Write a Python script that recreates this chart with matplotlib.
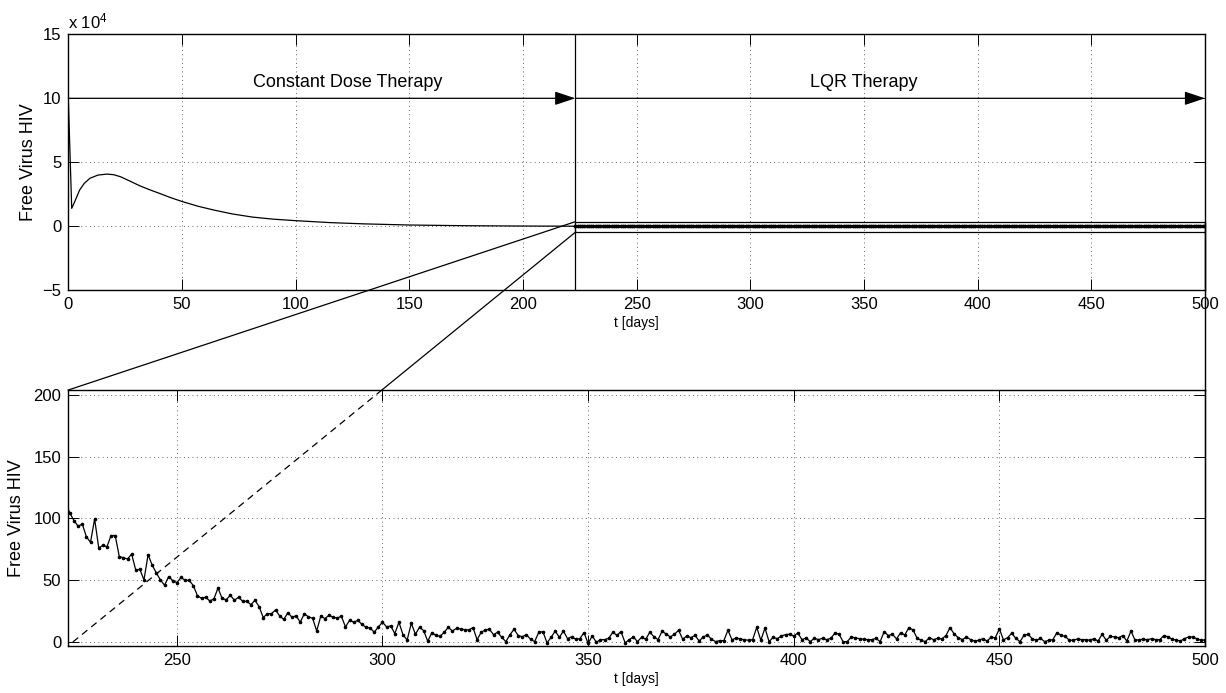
import numpy as np
import matplotlib
matplotlib.use('Agg')
import matplotlib.pyplot as plt
from matplotlib.patches import Rectangle
from matplotlib.lines import Line2D

plt.rcParams['font.family'] = ['Liberation Sans', 'DejaVu Sans']
plt.rcParams['mathtext.default'] = 'regular'

# ---------------- data ----------------
# constant dose therapy phase (free virus, top panel)
t_const = [0, 1.5, 3, 5, 7, 9.5, 13, 17, 20, 23, 27, 31.5, 36, 40, 45, 50, 57, 64,
           72, 81, 90, 100, 115, 130, 150, 175, 200, 223]
v_const = [100000, 14000, 20000, 28400, 33500, 37500, 40000, 40800, 40300, 38700,
           35400, 31600, 28400, 25800, 22400, 19400, 15700, 12700, 9700, 7200,
           5600, 4400, 2900, 1900, 1000, 450, 200, 80]

# LQR therapy phase (free virus, sampled daily from day 223)
lqr_seg1 = [112, 104, 98, 93.5, 95.4, 85, 80.5, 99.5, 76, 78, 77, 86, 86, 69, 68, 67,
            71, 58, 58.6, 50, 70.5, 62, 55.7, 50, 45.7, 52.7, 49.5, 47.8, 52, 49.7,
            49.7, 45.4, 37.3, 35, 36, 33, 34.6, 43.5, 35, 34, 37.6, 33.5, 36, 32.7,
            32.7, 30, 33.5]
lqr_seg2 = [28.4, 19.5, 22.7, 22.7, 25.7, 20.8, 18, 23.5, 19.7, 21, 15.7, 22.7, 20,
            19, 8.6, 20.8, 18.6, 21.4, 19.7, 19.2, 20.5, 11.9, 17.3, 15.7, 17.3, 14,
            11.6, 11, 7.6, 12, 15.7, 12, 12.7, 6.5, 15.7, 5.4, 1.4, 14.9, 6, 11.6, 9,
            0.3, 7.3, 5, 4.3, 7.6]
lqr_seg3 = [11.6, 8.6, 10.8, 10.3, 9.7, 9.5, 11.4, 1.6, 7.6, 9.5, 10, 5.7, 7.6, 3.5,
            0, 5.7, 10, 4.9, 4, 5.7, 1.9, 0, 7.6, 8.1, -1, 3.5, 8.6, 3.5, 8.6, 2.4, 4,
            1.9, 2.4, 7.3, -1.5, 4.6, -0.5, 1.6, 1.6, 2.7, 7.6, 5.1, 8.1, -1, 1.6]
lqr_seg4 = [3.8, 0, 3.5, 1.9, 7.6, 4, 1.6, 8.6, 6, 3.8, 6, 9.2, 1.9, 4.6, 3.2, 5.1,
            0.5, 3.8, 5.4, 1.9, 0, 0.8, 0.8, 9.2, 1.4, 3, 2.2, 1.6, 1.1, 1.6, 11.6,
            1.1, 11, 0, 3.5, 2.4, 4.6, 5.7, 6, 4.6, 7, 1.6, 3, 0, 2.7]
lqr_seg5 = [1.6, 2.7, 1.6, 2.7, 6.8, 6, 0, 0, 3.8, 3, 2.4, 1.9, 1.6, 1.6, 2.7, 0, 8.1,
            4.9, 6, 2.2, 7.3, 5.4, 11.4, 9.5, 2.7, 1.1, 0, 3.2, 1.6, 2.7, 2.2, 4.9,
            11.4, 6.2, 3.2, 1.6, 3.8, 1.6, 0.5, 1.1, 2.4, 0.5, 3.5, 3.2, 10.3]
lqr_seg6 = [1.4, 3.2, 6.8, 2.7, 0, 5.1, 6, 2.2, 1.1, 2.7, 0, 1.1, 1.6, 7.3, 5.1, 4.3,
            1.1, 1.1, 2.2, 1.6, 1.6, 1.1, 2.4, 0.5, 6, 1.1, 4.3, 3.8, 3.2, 4.9, 0.5,
            8.6, 1.1, 1.6, 1.9, 1.6, 2.4, 1.6, 1.6, 4.9, 4, 1.9, 1.4, 0.5, 2.4, 3.8,
            3.8, 2.4, 1.1, 1.4]
v_lqr = lqr_seg1 + lqr_seg2 + lqr_seg3 + lqr_seg4 + lqr_seg5 + lqr_seg6
lqr_t0 = 223
t_lqr = list(range(lqr_t0, lqr_t0 + len(v_lqr)))

t_switch = 223
t_end = 500
arrow_level = 100000
phase_labels = ['Constant Dose Therapy', 'LQR Therapy']
phase_label_x = [123, 350]
phase_label_y = 112000
zoom_box = (-4700, 3600)       # y-extent of zoom rectangle in top panel
bottom_ylim = (-3.3, 204)
bottom_xlim = (223.6, 500)

top_xticks = list(range(0, 501, 50))
top_yticks = [-50000, 0, 50000, 100000, 150000]
top_yticklabels = ['\u22125', '0', '5', '10', '15']
bot_xticks = [250, 300, 350, 400, 450, 500]
bot_yticks = [0, 50, 100, 150, 200]

# ---------------- figure ----------------
W, H = 1226, 693
fig = plt.figure(figsize=(W / 100, H / 100), dpi=100)
ax1 = fig.add_axes([68.3 / W, 1 - 290.3 / H, 1136.7 / W, 256 / H])
ax2 = fig.add_axes([68.3 / W, 1 - 645.7 / H, 1136.7 / W, 255.7 / H])

grid_kw = dict(color='0.25', linestyle=(0, (0.8, 3.6)), linewidth=0.7)
for ax in (ax1, ax2):
    ax.tick_params(direction='in', length=8, width=0.7, top=True, right=True,
                   labelsize=12, pad=5, colors='k')
    for s in ax.spines.values():
        s.set_linewidth(1.0)
    ax.grid(True, **grid_kw)
    ax.set_axisbelow(True)

# top panel
ax1.plot(t_const, v_const, color='k', lw=0.9)
ax1.plot(t_lqr, v_lqr, color='k', lw=0.9, marker='.', markersize=3.5)
ax1.set_xlim(0, t_end)
ax1.set_ylim(-50000, 150000)
ax1.set_xticks(top_xticks)
ax1.set_yticks(top_yticks)
ax1.set_yticklabels(top_yticklabels)
ax1.axvline(t_switch, color='k', lw=0.9)
arr = dict(arrowstyle='-|>,head_length=0.9,head_width=0.3', color='k', lw=0.9,
           shrinkA=0, shrinkB=0, mutation_scale=14)
ax1.annotate('', xy=(t_switch, arrow_level), xytext=(0, arrow_level), arrowprops=arr)
ax1.annotate('', xy=(t_end, arrow_level), xytext=(t_switch, arrow_level),
             arrowprops=arr, annotation_clip=False)
for lab, xx in zip(phase_labels, phase_label_x):
    ax1.text(xx, phase_label_y, lab, ha='center', va='center', fontsize=13)
ax1.text(0, 1.01, 'x 10$^{4}$', transform=ax1.transAxes, ha='left', va='bottom',
         fontsize=12)
ax1.set_xlabel('t [days]', fontsize=10, labelpad=3)
ax1.set_ylabel('Free Virus HIV', fontsize=13, labelpad=4)
rect = Rectangle((t_switch, zoom_box[0]), t_end - t_switch, zoom_box[1] - zoom_box[0],
                 fill=False, ec='k', lw=0.9, zorder=5, clip_on=False)
ax1.add_patch(rect)

# bottom panel
ax2.plot(t_lqr, v_lqr, color='k', lw=0.9, marker='.', markersize=3.2)
ax2.set_xlim(*bottom_xlim)
ax2.set_ylim(*bottom_ylim)
ax2.set_xticks(bot_xticks)
ax2.set_yticks(bot_yticks)
ax2.set_xlabel('t [days]', fontsize=10, labelpad=3)
ax2.set_ylabel('Free Virus HIV', fontsize=13, labelpad=6)

# connector lines (figure pixel space)
inv = fig.transFigure.inverted()
def fig_line(p, q, **kw):
    a = inv.transform(p)
    b = inv.transform(q)
    fig.add_artist(Line2D([a[0], b[0]], [a[1], b[1]], transform=fig.transFigure,
                          color='k', lw=0.9, **kw))

tl = ax1.transData.transform((t_switch, zoom_box[1]))
bl = ax1.transData.transform((t_switch, zoom_box[0]))
tr = ax1.transData.transform((t_end, zoom_box[1]))
br = ax1.transData.transform((t_end, zoom_box[0]))
b_tl = ax2.transAxes.transform((0, 1))
b_bl = ax2.transAxes.transform((0, 0))
b_tr = ax2.transAxes.transform((1, 1))
b_br = ax2.transAxes.transform((1, 0))

fig_line(tl, b_tl)
fig_line(tr, b_tr)
# lower-left connector: solid until bottom axes top edge, dashed inside
s = (bl[1] - b_tl[1]) / (bl[1] - b_bl[1])
cross = bl + s * (b_bl - bl)
fig_line(bl, cross)
fig_line(cross, b_bl, linestyle=(0, (5.5, 4)))
fig_line(br, b_br)

fig.savefig('out.png', dpi=100)
